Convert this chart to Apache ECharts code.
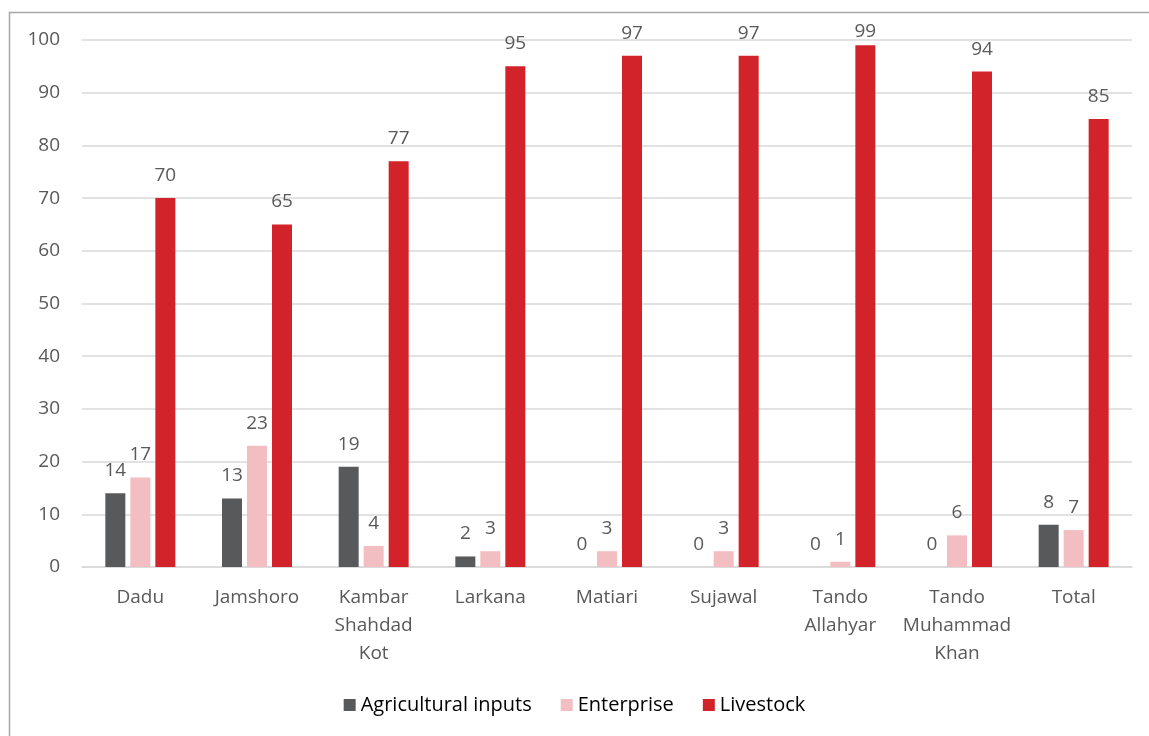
<!DOCTYPE html>
<html>
<head>
<meta charset="utf-8">
<script src="https://cdn.jsdelivr.net/npm/echarts@6/dist/echarts.min.js"></script>
<style>html,body{margin:0;padding:0;background:#fff}#c{width:1149px;height:736px}</style>
</head>
<body>
<div id="c"></div>
<script>
const categories = ['Dadu','Jamshoro','Kambar\nShahdad\nKot','Larkana','Matiari','Sujawal','Tando\nAllahyar','Tando\nMuhammad\nKhan','Total'];
const agricultural = [14,13,19,2,0,0,0,0,8];
const enterprise = [17,23,4,3,3,3,1,6,7];
const livestock = [70,65,77,95,97,97,99,94,85];
const yTicks = {min:0, max:100, interval:10};

const font = "'Open Sans', 'Noto Sans', sans-serif";
const chart = echarts.init(document.getElementById('c'), null, {renderer:'canvas'});
const lbl = {show:true, position:'top', distance:13, color:'#595959', fontSize:19, fontFamily:font};
// labels near the top of the plot get pushed down to stay inside the chart (like the original)
const livestockData = livestock.map(v => v >= 98 ? {value:v, label:{distance:4}} : v);
chart.setOption({
  animation:false,
  graphic:[{type:'rect', shape:{x:9.5,y:12.5,width:1200,height:800}, style:{fill:'none', stroke:'#a6a6a6', lineWidth:1.5}, silent:true}],
  grid:{left:82, right:17, top:40, bottom:169},
  legend:{bottom:16, left:'center', itemWidth:12, itemHeight:12, itemGap:29, icon:'rect',
    textStyle:{color:'#000', fontSize:20, fontFamily:font},
    data:['Agricultural inputs','Enterprise','Livestock']},
  xAxis:{type:'category', data:categories,
    axisLine:{lineStyle:{color:'#d9d9d9', width:1.5}}, axisTick:{show:false},
    axisLabel:{color:'#595959', fontSize:19, fontFamily:font, margin:17, lineHeight:28, interval:0}},
  yAxis:{type:'value', min:yTicks.min, max:yTicks.max, interval:yTicks.interval,
    axisLine:{show:false}, axisTick:{show:false},
    splitLine:{lineStyle:{color:'#d9d9d9', width:1.5}},
    axisLabel:{color:'#595959', fontSize:19, fontFamily:font, margin:22}},
  series:[
    {name:'Agricultural inputs', type:'bar', data:agricultural, barWidth:20, barGap:'25%', itemStyle:{color:'#58595b'}, label:lbl},
    {name:'Enterprise', type:'bar', data:enterprise, barWidth:20, itemStyle:{color:'#f2bec1'}, label:lbl},
    {name:'Livestock', type:'bar', data:livestockData, barWidth:20, itemStyle:{color:'#d2232a'}, label:lbl}
  ]
});
</script>
</body>
</html>
